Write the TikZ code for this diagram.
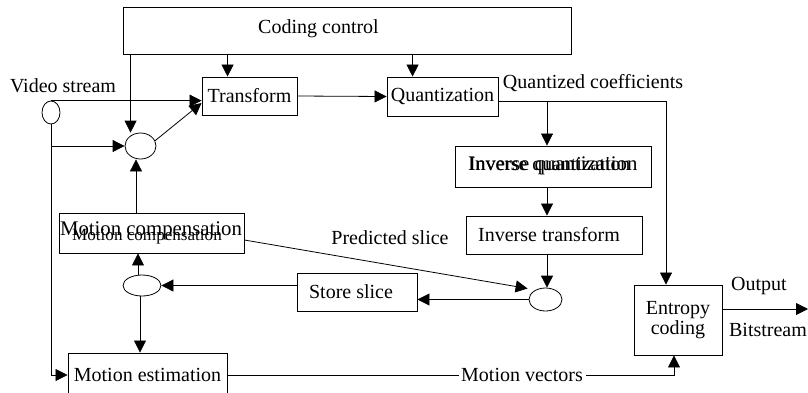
\documentclass[tikz,border=0pt]{standalone}
\usepackage{fontspec}
\setmainfont{Liberation Serif}
\usetikzlibrary{arrows.meta,shapes.geometric}
\tikzset{
  box/.style={draw, rectangle, inner sep=0pt, line width=0.9pt},
  oval/.style={draw, ellipse, inner sep=0pt, line width=0.8pt},
  lbl/.style={inner sep=0pt, font=\fontsize{20}{22}\selectfont},
  con/.style={line width=0.8pt},
  arr/.style={con, -{Triangle[length=12pt,width=12pt]}},
}
\begin{document}
\begin{tikzpicture}[x=1pt,y=-1pt]
\useasboundingbox (0,0) rectangle (808,392);
\clip (0,0) rectangle (808,392);
\fill[white] (0,0) rectangle (808,392);

% boxes
\node[box, minimum width=448, minimum height=47] (cc) at (347,30.5) {};
\node[lbl] (cctext) at (318.5,29) {Coding control};
\node[box, minimum width=95, minimum height=38, lbl] (tr) at (249.5,96) {Transform};
\node[box, minimum width=111, minimum height=39, lbl] (qu) at (442.5,96.5) {Quantization};
\node[box, minimum width=196, minimum height=41] (iq) at (553,166.5) {};
\node[lbl, anchor=west, font=\fontsize{20.8}{22}\selectfont] (iqa) at (468,166) {Inverse quantization};
\node[lbl, anchor=west, font=\fontsize{19.8}{22}\selectfont] (iqb) at (469,166.5) {Inverse quantization};
\node[box, minimum width=176, minimum height=38] (it) at (554,235) {};
\node[lbl] (ittext) at (549,235) {Inverse transform};
\node[box, minimum width=88, minimum height=70, lbl, align=center] (ec) at (678,320) {Entropy\\[-2pt]coding};
\node[box, minimum width=120, minimum height=38] (ss) at (357,292) {};
\node[lbl] (sstext) at (351,292) {Store slice};
\node[box, minimum width=185, minimum height=40] (mc) at (151.5,233) {};
\node[lbl, font=\fontsize{20.8}{22}\selectfont] (mca) at (151,231) {Motion compensation};
\node[lbl, font=\fontsize{17.1}{20}\selectfont] (mcb) at (147,237) {Motion compensation};
\node[box, minimum width=159, minimum height=44, lbl] (me) at (147.5,375) {Motion estimation};

% ovals
\node[oval, minimum width=18, minimum height=23] (e1) at (51,112.5) {};
\node[oval, minimum width=31, minimum height=26] (s1) at (140.5,146) {};
\node[oval, minimum width=38, minimum height=21] (e3) at (142,285.5) {};
\node[oval, minimum width=33, minimum height=23] (s2) at (545.5,299.5) {};

% labels
\node[lbl] (vs) at (63,86) {Video stream};
\node[lbl] (qcl) at (593,83) {Quantized coefficients};
\node[lbl] (psl) at (390,238) {Predicted slice};
\node[lbl] (mvtext) at (522,375) {Motion vectors};
\node[lbl] (outl) at (759,286) {Output};
\node[lbl] (bsl) at (768,330) {Bitstream};

% coordinates
\coordinate (qline) at ([yshift=-4.5pt]qu.east);
\coordinate (outend) at (808,309);

% connectors
\draw[arr] ([xshift=8pt]cc.south west) -- ([xshift=8pt]cc.south west |- s1.north);
\draw[arr] ([xshift=26pt]tr.north west |- cc.south) -- ([xshift=26pt]tr.north west);
\draw[arr] ([xshift=26pt]qu.north west |- cc.south) -- ([xshift=26pt]qu.north west);
\draw[arr] (tr.east) -- (qu.west);
\draw[arr] (e1.north) -- (e1.north -| tr.west);
\draw[arr] (s1.20) -- ([yshift=-7pt]tr.west);
\draw[arr] (e1.south) |- (me.west);
\draw[arr] (e1.south |- s1.west) -- (s1.west);
\draw[arr] ([xshift=-4.5pt]s1.south |- mc.north) -- ([xshift=-4.5pt]s1.south);
\draw[arr] ([xshift=-4pt]e3.north) -- ([xshift=-4pt]e3.north |- mc.south);
\draw[arr] ([xshift=-2pt]e3.south) -- ([xshift=-2pt]e3.south |- me.north);
\draw[arr] (ss.west |- e3.east) -- (e3.east);
\draw[arr] (s2.west) -- (s2.west -| ss.east);
\draw[arr] (qline) -| ([xshift=-12pt]ec.north);
\draw[arr] ([xshift=-6pt]iq.north |- qline) -- ([xshift=-6pt]iq.north);
\draw[arr] ([xshift=-6pt]iq.south) -- ([xshift=-6pt]iq.south |- it.north);
\draw[arr] ([xshift=-7pt]it.south) -- ([xshift=-7pt]it.south |- s2.north);
\draw[arr] ([yshift=-7pt]mc.east) -- ([xshift=-1pt,yshift=11pt]s2.west);
\draw[con] (me.east) -- ([xshift=-2pt]mvtext.west);
\draw[arr] ([xshift=3pt]mvtext.east) -| ([xshift=-4pt]ec.south);
\draw[arr] ([yshift=11pt]ec.east) -- (outend);
\end{tikzpicture}
\end{document}
